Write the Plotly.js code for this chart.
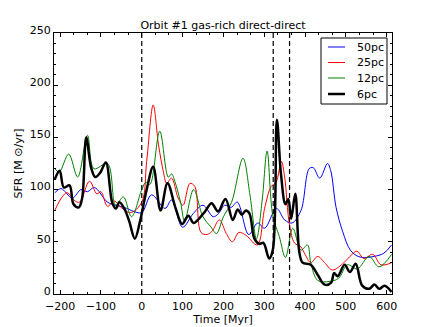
<!DOCTYPE html>
<html>
<head>
<meta charset="utf-8">
<script src="https://cdn.plot.ly/plotly-3.0.1.min.js"></script>
<style>
  html, body { margin: 0; padding: 0; background: #fff; }
  #chart { width: 436px; height: 327px; }
</style>
</head>
<body>
<div id="chart"></div>
<script>
// 50pc run
var t50 = [-213, -198, -170, -149, -133, -116, -84, -63, -43, -19, 0, 24, 57, 73, 100, 126, 150, 175,
    188, 203, 219, 234, 262, 284, 301, 330, 350, 368, 390, 410, 420, 436, 455, 463, 476, 492, 511, 530,
    550, 569, 593, 612];
var sfr50 = [97, 101, 92, 100, 98, 102, 88, 85, 83, 79, 78, 95, 82, 90, 64, 77, 85, 74,
    77, 85, 83, 88, 57, 68, 63, 82, 71, 68, 80, 120, 121, 111, 125, 118, 83, 60, 42, 36,
    35, 36, 39, 47];

// 25pc run
var t25 = [-213, -195, -183, -163, -152, -128, -110, -100, -84, -67, -51, -27, 0, 12, 28, 41, 53, 61,
    73, 89, 101, 118, 130, 145, 160, 172, 190, 207, 222, 238, 256, 283, 301, 317, 329, 342, 350,
    362, 374, 390, 400, 414, 431, 448, 467, 495, 510, 527, 544, 566, 586, 612];
var sfr25 = [80, 93, 97, 89, 88, 108, 96, 98, 84, 89, 83, 78, 88, 127, 181, 143, 117, 106,
    111, 92, 85, 106, 103, 59, 57, 60, 71, 58, 50, 59, 56, 47, 82, 103, 107, 127, 112,
    66, 49, 45, 38, 30, 36, 30, 23, 30, 36, 41, 34, 38, 28, 30];

// 12pc run
var t12 = [-213, -202, -179, -157, -133, -117, -84, -64, -45, -25, 0, 10, 20, 44, 65, 73, 81, 95, 105,
    127, 150, 170, 183, 200, 220, 248, 265, 281, 295, 307, 321, 337, 352, 370, 390, 406, 414, 431,
    459, 482, 504, 528, 557, 581, 612];
var sfr12 = [120, 117, 134, 112, 152, 120, 125, 85, 93, 74, 100, 107, 105, 156, 112, 115, 108, 88, 70,
    100, 74, 64, 58, 74, 88, 130, 95, 53, 90, 137, 75, 55, 35, 63, 42, 47, 30, 13,
    12, 15, 28, 24, 36, 26, 38];

// 6pc run
var t6 = [-213, -201, -191, -177, -167, -154, -146, -136, -124, -114, -102, -88, -72, -63, -55, -43,
    -31, -17, -4, 12, 28, 46, 63, 83, 99, 114, 127, 142, 155, 171, 187, 205, 223, 235, 245, 255,
    264, 276, 288, 298, 312, 321, 331, 341, 352, 359, 366, 376, 386, 394, 414, 430, 448, 464, 471,
    480, 497, 510, 524, 540, 557, 570, 582, 595, 612];
var sfr6 = [110, 118, 102, 104, 86, 83, 92, 150, 121, 112, 116, 126, 87, 82, 88, 82,
    70, 53, 70, 100, 122, 80, 106, 82, 67, 75, 68, 73, 79, 87, 79, 91, 71, 81, 76, 80,
    77, 53, 48, 49, 34, 42, 167, 115, 86, 91, 72, 96, 40, 30, 28, 19, 9, 11, 20,
    17, 28, 21, 29, 8, 5, 9, 5, 8, 2];

var seriesNames = ['50pc', '25pc', '12pc', '6pc'];
var seriesColors = ['#0000ff', '#ff0000', '#008000', '#000000'];
var seriesWidths = [1, 1, 1, 2.5];
var eventTimes = [0, 322, 362];

var xs = [t50, t25, t12, t6];
var ys = [sfr50, sfr25, sfr12, sfr6];

var traces = xs.map(function (x, i) {
    return {
        type: 'scatter', mode: 'lines',
        x: x, y: ys[i], name: seriesNames[i],
        line: {color: seriesColors[i], width: seriesWidths[i], shape: 'spline', smoothing: 1}
    };
});

var shapes = eventTimes.map(function (t) {
    return {
        type: 'line', xref: 'x', yref: 'paper', x0: t, x1: t, y0: 0, y1: 1,
        line: {color: '#000', width: 1.2, dash: '5px,3px'}
    };
});

// hand-drawn legend box (matplotlib style, tight rows)
var W = 338, H = 261; // plot area in px
function px(x) { return (x - 54) / W; }
function py(y) { return (294 - y) / H; }
shapes.push({
    type: 'rect', xref: 'paper', yref: 'paper',
    x0: px(321), x1: px(387), y0: py(104), y1: py(38),
    line: {color: '#000', width: 1}, fillcolor: '#fff'
});
var annotations = [];
var rowY = [47, 62.5, 78, 94];
seriesNames.forEach(function (name, i) {
    shapes.push({
        type: 'line', xref: 'paper', yref: 'paper',
        x0: px(328), x1: px(345), y0: py(rowY[i]), y1: py(rowY[i]),
        line: {color: seriesColors[i], width: seriesWidths[i]}
    });
    annotations.push({
        xref: 'paper', yref: 'paper', x: px(355), y: py(rowY[i]),
        xanchor: 'left', yanchor: 'middle', showarrow: false,
        text: name, font: {family: 'DejaVu Sans, sans-serif', size: 11, color: '#000'}
    });
});

var font = {family: 'DejaVu Sans, sans-serif', size: 11, color: '#000'};

var layout = {
    width: 436,
    height: 327,
    margin: {l: 54, r: 44, t: 33, b: 33},
    paper_bgcolor: '#fff',
    plot_bgcolor: '#fff',
    font: font,
    showlegend: false,
    title: {
        text: 'Orbit #1 gas-rich direct-direct',
        font: font,
        x: 0.5, xref: 'paper', xanchor: 'center',
        y: 1 - 25 / 327, yref: 'container', yanchor: 'middle'
    },
    xaxis: {
        range: [-215, 613],
        tickvals: [-200, -100, 0, 100, 200, 300, 400, 500, 600],
        ticks: 'inside', ticklen: 4, tickcolor: '#000',
        ticklabelstandoff: 2,
        minor: {tick0: -200, dtick: 100 / 3, ticks: 'inside', ticklen: 2, tickcolor: '#000'},
        showline: true, linecolor: '#000', linewidth: 1, mirror: 'allticks',
        showgrid: false, zeroline: false,
        tickfont: font,
        title: {text: 'Time [Myr]', font: font, standoff: 0}
    },
    yaxis: {
        range: [0, 250],
        tickvals: [0, 50, 100, 150, 200, 250],
        ticks: 'inside', ticklen: 4, tickcolor: '#000',
        ticklabelshift: -3,
        minor: {dtick: 10, ticks: 'inside', ticklen: 2, tickcolor: '#000'},
        showline: true, linecolor: '#000', linewidth: 1, mirror: 'allticks',
        showgrid: false, zeroline: false,
        tickfont: font,
        title: {text: 'SFR [M ⊙/yr]', font: font, standoff: 4}
    },
    shapes: shapes,
    annotations: annotations
};

Plotly.newPlot('chart', traces, layout, {staticPlot: true});
</script>
</body>
</html>
